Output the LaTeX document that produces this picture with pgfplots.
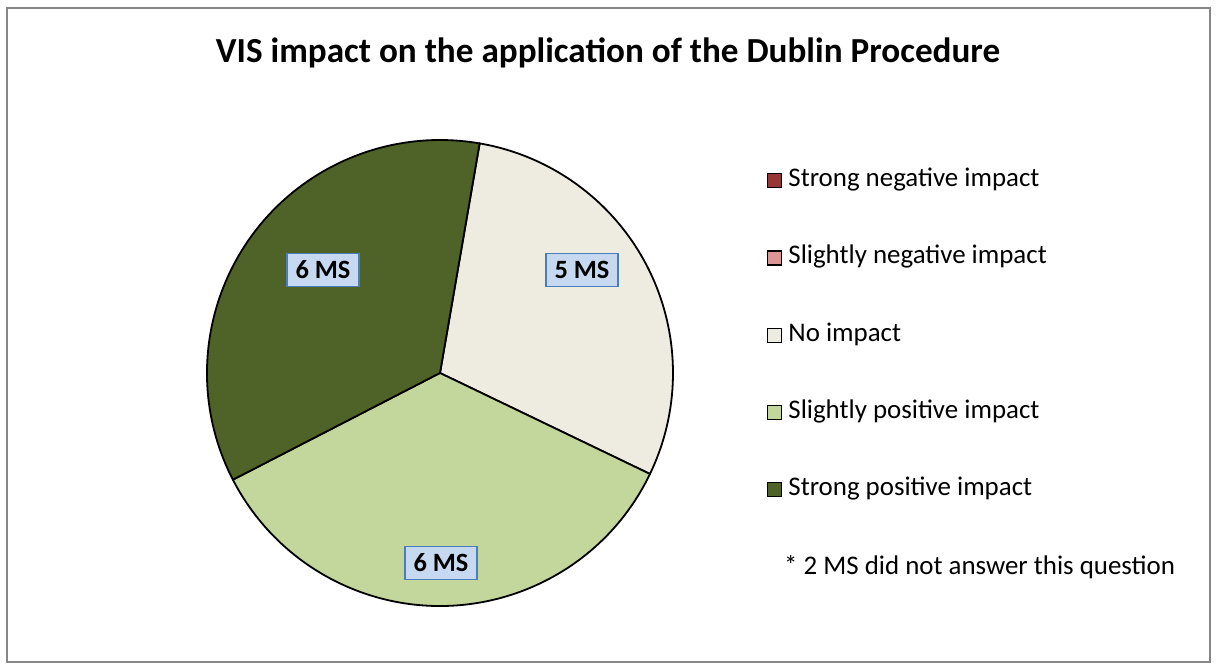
\documentclass[border=0pt]{standalone}
\usepackage{fontspec}
\setmainfont{Carlito}
\usepackage{pgfplots}
\usepackage{pgfplotstable}
\pgfplotsset{compat=1.18}

\definecolor{cSN}{HTML}{953735}
\definecolor{cSlN}{HTML}{D99694}
\definecolor{cNo}{HTML}{EEECE1}
\definecolor{cSlP}{HTML}{C3D69B}
\definecolor{cSP}{HTML}{4F6228}
\definecolor{boxfill}{HTML}{C6D9F1}
\definecolor{boxdraw}{HTML}{4A7EBB}
\definecolor{framegray}{HTML}{878787}

% Number of Member States per answer
\pgfplotstableread{
value color
0 cSN
0 cSlN
5 cNo
6 cSlP
6 cSP
}\piedata

% ---- compute slice angles from the data ----
\def\total{0}
\pgfplotsforeachungrouped \i in {0,...,4}{%
  \pgfplotstablegetelem{\i}{value}\of\piedata
  \pgfmathsetmacro\total{\total+\pgfplotsretval}%
}
\def\cur{80.2}
\gdef\pieslices{}
\pgfplotsforeachungrouped \i in {0,...,4}{%
  \pgfplotstablegetelem{\i}{value}\of\piedata
  \pgfmathsetmacro\nxt{\cur-\pgfplotsretval/\total*360}%
  \pgfplotstablegetelem{\i}{color}\of\piedata
  \xdef\pieslices{\unexpanded\expandafter{\pieslices}%
    \noexpand\filldraw[fill=\pgfplotsretval, draw=black, line width=1.8bp, line join=round]
      (axis cs:440,297) -- ++(\cur:233bp) arc[start angle=\cur, end angle=\nxt, radius=233bp] -- cycle;}%
  \let\cur\nxt
}

\begin{document}
\begin{tikzpicture}
\begin{axis}[
  hide axis, scale only axis, width=1217bp, height=670bp,
  xmin=0, xmax=1217, ymin=0, ymax=670, clip=false,
  legend cell align=left,
  legend image code/.code={\draw[#1, line width=1.2bp] (0bp,-7bp) rectangle (14bp,7bp);},
  legend style={at={(axis cs:767,500.5)}, anchor=north west, draw=none, fill=none,
    inner sep=0pt, row sep=55.25bp, column sep=6bp,
    nodes={font=\fontsize{27}{32}\selectfont, inner sep=0pt, text height=17bp, text depth=5bp}},
]
\coordinate (BL) at (axis cs:0,0);
\coordinate (TR) at (axis cs:1217,670);
\draw[framegray, line width=1.5bp] (axis cs:7,662) rectangle (axis cs:1210,8);
\node[anchor=base, font=\fontsize{35.3}{40}\selectfont\bfseries] at (axis cs:608,607)
  {VIS impact on the application of the Dublin Procedure};
\pieslices
\addlegendimage{fill=cSN, draw=black}
\addlegendentry{Strong negative impact}
\addlegendimage{fill=cSlN, draw=black}
\addlegendentry{Slightly negative impact}
\addlegendimage{fill=cNo, draw=black}
\addlegendentry{No impact}
\addlegendimage{fill=cSlP, draw=black}
\addlegendentry{Slightly positive impact}
\addlegendimage{fill=cSP, draw=black}
\addlegendentry{Strong positive impact}
\tikzset{lbl/.style={fill=boxfill, draw=boxdraw, line width=1.5bp, minimum width=72bp,
  minimum height=33bp, inner sep=0pt, font=\fontsize{26.5}{30}\selectfont\bfseries}}
\node[lbl] at (axis cs:323,400) {6 MS};
\node[lbl] at (axis cs:582,400) {5 MS};
\node[lbl] at (axis cs:441,107) {6 MS};
\node[anchor=base west, inner sep=0pt, font=\fontsize{27}{32}\selectfont] at (axis cs:784,95)
  {* 2 MS did not answer this question};
\end{axis}
\pgfresetboundingbox
\path[use as bounding box] (BL) rectangle (TR);
\end{tikzpicture}
\end{document}
